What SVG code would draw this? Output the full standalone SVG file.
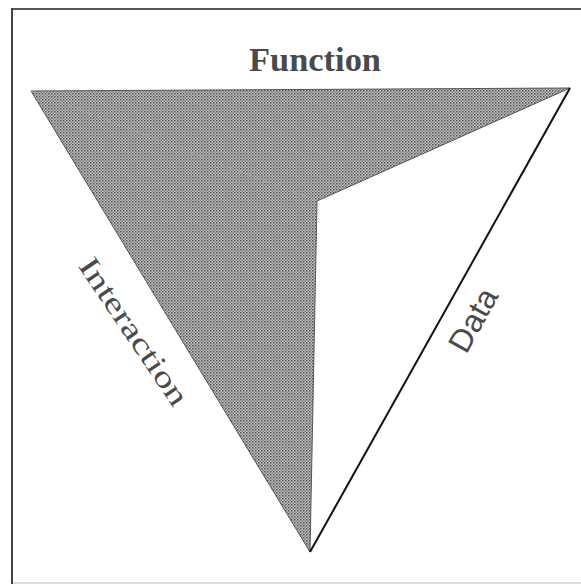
<svg xmlns="http://www.w3.org/2000/svg" width="581" height="586" viewBox="0 0 581 586">
  <style>
    .lbl { fill: #4a4a4a; }
    .serif { font-family: "Liberation Serif", "Times New Roman", serif; }
    .sans { font-family: "Liberation Sans", Arial, sans-serif; }
  </style>
  <defs>
    <pattern id="dots" width="3" height="3" patternUnits="userSpaceOnUse">
      <rect width="3" height="3" fill="#c2c2c2"/>
      <rect width="1.5" height="1.5" fill="#505050"/>
      <rect x="1.5" y="1.5" width="1.5" height="1.5" fill="#7e7e7e"/>
    </pattern>
  </defs>
  <rect width="581" height="586" fill="#ffffff"/>
  <g id="frame" fill="none">
    <line x1="12" y1="9" x2="581" y2="9" stroke="#555" stroke-width="2"/>
    <line x1="12" y1="8" x2="12" y2="584" stroke="#444" stroke-width="2"/>
    <line x1="13" y1="583" x2="581" y2="583" stroke="#ddd" stroke-width="2"/>
  </g>
  <g id="shaded">
    <polygon points="31,91 570,88 317,201 310,552" fill="url(#dots)" stroke="#555" stroke-width="1"/>
    <line x1="31" y1="91" x2="317" y2="201" stroke="#a8a8a8" stroke-width="1.5" stroke-dasharray="6 4" opacity="0.6"/>
  </g>
  <g id="connectors">
    <line x1="570" y1="88" x2="310" y2="552" stroke="#111" stroke-width="2"/>
  </g>
  <g id="function-label">
    <text class="lbl serif" x="315" y="71" font-size="34" font-weight="bold" text-anchor="middle" textLength="132" lengthAdjust="spacingAndGlyphs" fill="#5a5a5a">Function</text>
  </g>
  <g id="interaction-label">
    <text class="lbl serif" transform="translate(133,332) rotate(56)" x="0" y="9" font-size="30" text-anchor="middle" textLength="172" lengthAdjust="spacingAndGlyphs">Interaction</text>
  </g>
  <g id="data-label">
    <text class="lbl sans" transform="translate(473,320) rotate(-61)" x="0" y="11" font-size="32" text-anchor="middle">Data</text>
  </g>
</svg>
